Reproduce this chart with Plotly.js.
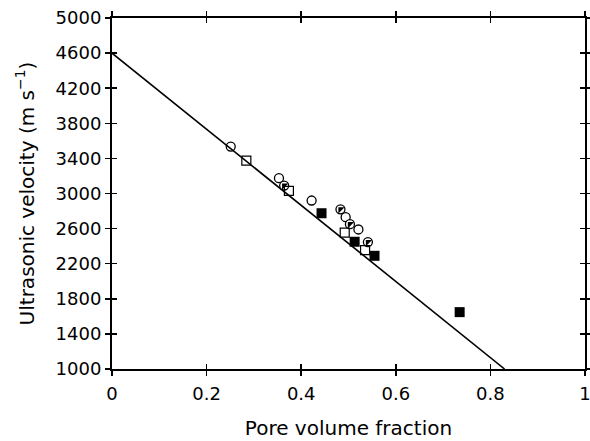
<!DOCTYPE html>
<html>
<head>
<meta charset="utf-8">
<script src="https://cdn.plot.ly/plotly-3.0.1.min.js"></script>
<style>html,body{margin:0;padding:0;background:#fff;}#chart{width:590px;height:441px;}</style>
</head>
<body>
<div id="chart"></div>
<script>
// Data
var openCircleX = [0.251, 0.353, 0.422, 0.494, 0.521];
var openCircleY = [3535, 3175, 2920, 2730, 2590];
var halfCircleX = [0.364, 0.483, 0.503, 0.541];
var halfCircleY = [3090, 2820, 2650, 2447];
var openSquareX = [0.284, 0.374, 0.492, 0.535];
var openSquareY = [3375, 3030, 2555, 2355];
var filledSquareX = [0.443, 0.513, 0.555, 0.735];
var filledSquareY = [2775, 2450, 2290, 1648];
var fitLineX = [0, 0.83];
var fitLineY = [4600, 1000];
var xTickVals = [0, 0.2, 0.4, 0.6, 0.8, 1];
var xTickText = ['0', '0.2', '0.4', '0.6', '0.8', '1'];
var yTickVals = [1000, 1400, 1800, 2200, 2600, 3000, 3400, 3800, 4200, 4600, 5000];
var yTickText = yTickVals.map(String);

var FONT = 'DejaVu Sans, Arial, Helvetica, sans-serif';
var FS = 18;
var TFS = 20;

var traces = [
  {x: fitLineX, y: fitLineY, mode: 'lines', line: {color: '#000', width: 1.6}, hoverinfo: 'skip'},
  {x: openCircleX, y: openCircleY, mode: 'markers',
   marker: {symbol: 'circle-open', size: 9, color: '#000', line: {width: 1.3, color: '#000'}}},
  {x: halfCircleX, y: halfCircleY, mode: 'markers',
   marker: {symbol: 'circle', size: 9, color: '#fff', line: {width: 1.3, color: '#000'}}},
  {x: halfCircleX, y: halfCircleY, mode: 'markers',
   marker: {symbol: 'triangle-nw', size: 7, color: '#000', line: {width: 0}}},
  {x: openSquareX, y: openSquareY, mode: 'markers',
   marker: {symbol: 'square-open', size: 9, color: '#000', line: {width: 1.2, color: '#000'}}},
  {x: filledSquareX, y: filledSquareY, mode: 'markers',
   marker: {symbol: 'square', size: 10, color: '#000', line: {width: 0}}},
  {x: [], y: [], xaxis: 'x2', yaxis: 'y2', mode: 'markers'}
];

var axCommon = {showgrid: false, zeroline: false, showline: true, linecolor: '#000', linewidth: 2,
  tickcolor: '#000', tickwidth: 1.5, ticklen: 5, mirror: 'ticks', fixedrange: true};

var layout = {
  width: 590, height: 441,
  margin: {l: 112, r: 5, t: 18, b: 72},
  paper_bgcolor: '#fff', plot_bgcolor: '#fff',
  showlegend: false,
  font: {family: FONT, color: '#000', size: FS},
  xaxis: Object.assign({}, axCommon, {
    range: [0, 1], ticks: 'outside', tickvals: xTickVals, ticktext: xTickText,
    ticklabeloverflow: 'allow', ticklabelstandoff: 2,
    tickfont: {family: FONT, size: FS, color: '#000'},
    title: {text: 'Pore volume fraction', font: {family: FONT, size: TFS, color: '#000'}, standoff: 18}
  }),
  yaxis: Object.assign({}, axCommon, {
    range: [1000, 5000], ticks: 'outside', tickvals: yTickVals, ticktext: yTickText,
    ticklabeloverflow: 'allow',
    tickfont: {family: FONT, size: FS, color: '#000'},
    title: {text: 'Ultrasonic velocity (m s<sup>\u22121</sup>)', font: {family: FONT, size: TFS, color: '#000'}, standoff: 16}
  }),
  xaxis2: Object.assign({}, axCommon, {
    range: [0, 1], ticks: 'inside', tickvals: xTickVals, showticklabels: false,
    overlaying: 'x', anchor: 'y2'
  }),
  yaxis2: Object.assign({}, axCommon, {
    range: [1000, 5000], ticks: 'inside', tickvals: yTickVals, showticklabels: false,
    overlaying: 'y', anchor: 'x2'
  })
};

Plotly.newPlot('chart', traces, layout, {staticPlot: true, displayModeBar: false});
</script>
</body>
</html>
